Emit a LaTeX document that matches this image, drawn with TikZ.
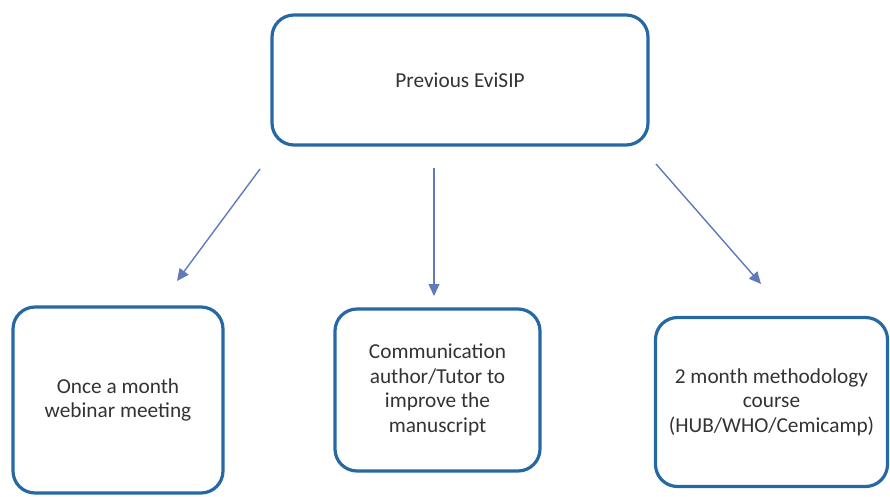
\documentclass[tikz,border=0pt]{standalone}
\usepackage{fontspec}
\setmainfont{Carlito}
\usetikzlibrary{arrows.meta}
\definecolor{boxblue}{RGB}{38,104,164}
\definecolor{arrblue}{RGB}{96,122,186}
\def\lw{3.2pt}
\tikzset{box/.style={draw=boxblue,line width=\lw,rounded corners=22pt,
      align=center,text=black!80,font=\fontsize{21.3}{24.5}\selectfont},
    arr/.style={draw=arrblue,line width=1.4pt,
      -{Triangle[length=12pt,width=11pt]}}}

\begin{document}
\begin{tikzpicture}[x=1pt,y=-1pt]
    \useasboundingbox (0,0) rectangle (890,497);
    \node[box,minimum width=376pt,minimum height=130pt] (prev) at (460,80) {Previous EviSIP};
    \node[box,minimum width=210pt,minimum height=186pt] (webinar) at (118,400) {Once a month\\webinar meeting};
    \node[box,minimum width=205pt,minimum height=162pt] (comm) at (437.5,390) {Communication\\author/Tutor to\\improve the\\manuscript};
    \node[box,minimum width=232pt,minimum height=169pt] (course) at (771.5,402) {2 month methodology\\course\\(HUB/WHO/Cemicamp)};
    \foreach \n/\sx/\sy/\ex/\ey in {a/260/169/177/281,b/434/168/434/296,c/656/164/761/284} {
      \coordinate (s\n) at (\sx,\sy);
      \coordinate (e\n) at (\ex,\ey);
      \draw[arr] (s\n) -- (e\n);
    }
  \end{tikzpicture}
\end{document}
